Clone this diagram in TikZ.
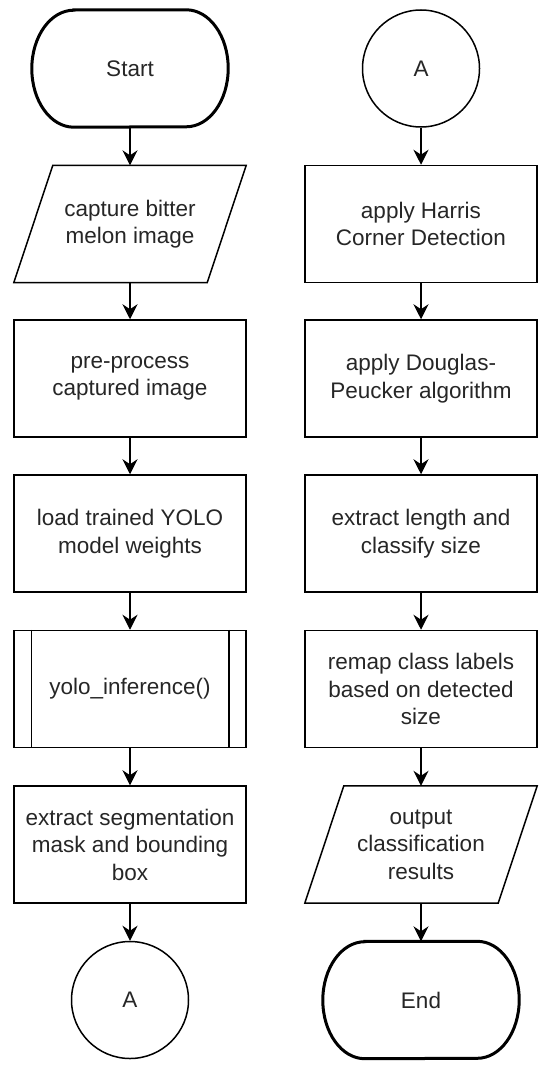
\documentclass[tikz,border=0pt]{standalone}
\usepackage{fontspec}
\setmainfont{Liberation Sans}
\usetikzlibrary{arrows.meta}
\begin{document}
\begin{tikzpicture}[x=1pt,y=1pt,
  every node/.style={font=\fontsize{22.5}{27.5}\selectfont, align=center, text=black!85},
  proc/.style={draw, line width=1.5pt, minimum width=232pt, minimum height=117pt, inner sep=0pt},
  ioshape/.style={minimum width=232pt, minimum height=117pt, inner sep=0pt},
  term/.style={minimum width=196pt, minimum height=117pt, inner sep=0pt},
  termline/.style={line width=3pt},
  conn/.style={draw, circle, line width=1.5pt, minimum size=117pt, inner sep=0pt},
  arr/.style={line width=1.5pt, -{Stealth[length=15pt, width=15pt, inset=5pt]}},
  outl/.style={line width=1.5pt, line join=miter}
]
\useasboundingbox (0,0) rectangle (550,-1067);
% left column
\node[term] (start) at (130,-68.5) {Start};
\draw[termline] ([xshift=42pt]start.north west) -- ([xshift=-42pt]start.north east)
  arc[start angle=90, end angle=-90, x radius=42pt, y radius=58.5pt]
  -- ([xshift=42pt]start.south west)
  arc[start angle=270, end angle=90, x radius=42pt, y radius=58.5pt] -- cycle;
\node[ioshape] (cap) at (130,-224) {capture bitter\\melon image};
\draw[outl] ([xshift=39pt]cap.north west) -- (cap.north east) -- ([xshift=-39pt]cap.south east) -- (cap.south west) -- cycle;
\node[proc] (pre) at (130,-378.5) {pre-process\\captured image};
\node[proc] (load) at (130,-533.5) {load trained YOLO\\model weights};
\node[proc] (yolo) at (130,-689) {yolo\_inference()};
\draw[outl] ([xshift=18pt]yolo.north west) -- ([xshift=18pt]yolo.south west);
\draw[outl] ([xshift=-18pt]yolo.north east) -- ([xshift=-18pt]yolo.south east);
\node[proc] (seg) at (130,-844.5) {extract segmentation\\mask and bounding\\box};
\node[conn] (a1) at (130,-1000) {A};
% right column
\node[conn] (a2) at (421,-68.5) {A};
\node[proc] (harris) at (421,-224) {apply Harris\\Corner Detection};
\node[proc] (dp) at (421,-378.5) {apply Douglas-\\Peucker algorithm};
\node[proc] (len) at (421,-533.5) {extract length and\\classify size};
\node[proc] (remap) at (421,-689) {remap class labels\\based on detected\\size};
\node[ioshape] (out) at (421,-844.5) {output\\classification\\results};
\draw[outl] ([xshift=39pt]out.north west) -- (out.north east) -- ([xshift=-39pt]out.south east) -- (out.south west) -- cycle;
\node[term] (end) at (421,-1000) {End};
\draw[termline] ([xshift=42pt]end.north west) -- ([xshift=-42pt]end.north east)
  arc[start angle=90, end angle=-90, x radius=42pt, y radius=58.5pt]
  -- ([xshift=42pt]end.south west)
  arc[start angle=270, end angle=90, x radius=42pt, y radius=58.5pt] -- cycle;
% connectors
\draw[arr] (start) -- (cap);
\draw[arr] (cap) -- (pre);
\draw[arr] (pre) -- (load);
\draw[arr] (load) -- (yolo);
\draw[arr] (yolo) -- (seg);
\draw[arr] (seg) -- (a1);
\draw[arr] (a2) -- (harris);
\draw[arr] (harris) -- (dp);
\draw[arr] (dp) -- (len);
\draw[arr] (len) -- (remap);
\draw[arr] (remap) -- (out);
\draw[arr] (out) -- (end);
\end{tikzpicture}
\end{document}
